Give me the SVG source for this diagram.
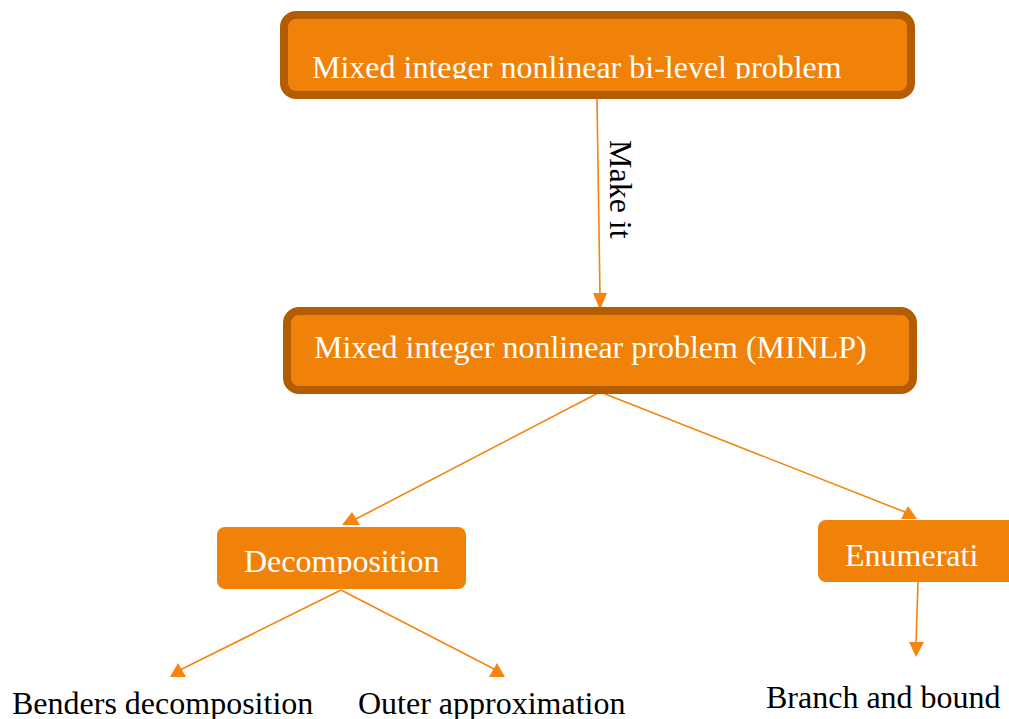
<svg xmlns="http://www.w3.org/2000/svg" width="1009" height="719" viewBox="0 0 1009 719">
  <style>
    .box { fill: #F0820A; }
    .framed { fill: #F0820A; stroke: #B35C02; stroke-width: 8; }
    .in { font-family: "Liberation Serif", "Times New Roman", serif; font-size: 32px; fill: #FFFFFF; }
    .out { font-family: "Liberation Serif", "Times New Roman", serif; font-size: 32px; fill: #000000; }
    .edge { stroke: #F58410; stroke-width: 1.6; fill: none; }
    .head { fill: #F58410; }
  </style>
  <defs>
    <clipPath id="clipTop"><rect x="290" y="20" width="620" height="59"/></clipPath>
    <clipPath id="clipDec"><rect x="217" y="527" width="249" height="47"/></clipPath>
  </defs>

  <rect width="1009" height="719" fill="#FFFFFF"/>

  <!-- connectors -->
  <g id="connectors">
    <line class="edge" x1="597" y1="99" x2="600" y2="296"/>
    <polygon class="head" points="593,293 607,293 600,310"/>

    <line class="edge" x1="600" y1="392" x2="354" y2="520"/>
    <polygon class="head" points="352,512 360,525 342,525"/>

    <line class="edge" x1="600" y1="392" x2="910" y2="514"/>
    <polygon class="head" points="908,506 917,519 901,519"/>

    <line class="edge" x1="341" y1="590" x2="180" y2="670"/>
    <polygon class="head" points="178,663 186,677 170,677"/>

    <line class="edge" x1="341" y1="590" x2="496" y2="670"/>
    <polygon class="head" points="497,663 505,677 489,677"/>

    <line class="edge" x1="918" y1="582" x2="916" y2="645"/>
    <polygon class="head" points="909,642 924,642 916,657"/>

    <text class="out" transform="translate(610,140) rotate(90)">Make it</text>
  </g>

  <!-- top problem -->
  <g id="node-bilevel">
    <rect class="framed" x="284" y="15" width="627" height="80" rx="12"/>
    <text class="in" x="312" y="78" clip-path="url(#clipTop)">Mixed integer nonlinear bi-level problem</text>
  </g>

  <!-- MINLP -->
  <g id="node-minlp">
    <rect class="framed" x="287" y="311" width="626" height="79" rx="12"/>
    <text class="in" x="314" y="358">Mixed integer nonlinear problem (MINLP)</text>
  </g>

  <!-- Decomposition -->
  <g id="node-decomposition">
    <rect class="box" x="217" y="527" width="249" height="62" rx="8"/>
    <text class="in" x="244" y="572" clip-path="url(#clipDec)">Decomposition</text>
  </g>

  <!-- Enumeration -->
  <g id="node-enumeration">
    <rect class="box" x="818" y="520" width="206" height="62" rx="8"/>
    <text class="in" x="845" y="566">Enumerati</text>
  </g>

  <!-- leaf methods -->
  <g id="node-benders">
    <text class="out" x="12" y="714">Benders decomposition</text>
  </g>
  <g id="node-outer">
    <text class="out" x="358" y="714">Outer approximation</text>
  </g>
  <g id="node-bnb">
    <text class="out" x="766" y="708">Branch and bound</text>
  </g>
</svg>
